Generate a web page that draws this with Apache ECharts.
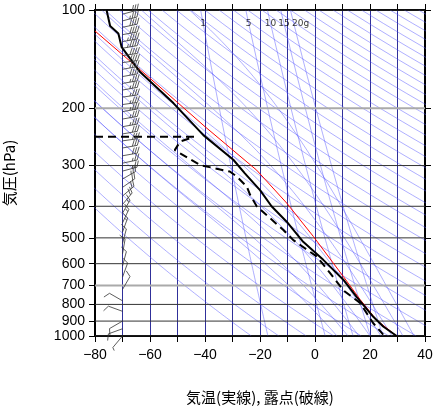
<!DOCTYPE html>
<html><head><meta charset="utf-8">
<script src="https://cdn.jsdelivr.net/npm/echarts@6/dist/echarts.min.js"></script>
<style>html,body{margin:0;padding:0;background:#fff}#c{width:436px;height:411px}</style>
</head><body><div id="c"></div>
<script>
var chart = echarts.init(document.getElementById('c'));

// 気温 (実線)
var tempP = [100, 112, 118, 130, 155, 193, 242, 288, 317, 357, 400, 446, 514, 584, 672, 758, 873, 935, 1000];
var tempT = [-75.8, -74.5, -71.5, -70.3, -63.6, -51.5, -40.6, -29.7, -25.5, -20, -15.8, -10.3, -4.3, 3.0, 10.3, 15.1, 21.2, 24.8, 29.7];
// 露点 (破線)
var dewP = [245, 245, 253, 269, 299, 313, 324, 348, 369, 400, 473, 508, 570, 641, 724, 792, 914, 990];
var dewT = [-80, -44, -49, -51, -41.8, -31, -28.5, -24.8, -23.6, -21.2, -11.5, -7.9, 0.6, 5.5, 10.3, 16.4, 21.2, 24.8];
// 赤線 (持ち上げ曲線)
var redP = [116, 162, 228, 310, 391, 495, 657, 773, 894, 1000];
var redT = [-80, -60, -40, -21.2, -10.3, -0.6, 10.3, 16.4, 22.4, 29.7];
// 風 (気圧, 向き[画面上の角度], 風速kt)
var windP = [103, 108, 113, 119, 125, 131, 138, 145, 152, 160, 168, 176, 185, 195, 205, 216, 228, 240, 252, 265, 280, 295, 312, 330, 350, 372, 395, 420, 450, 480, 520, 560, 610, 660, 720, 780, 840, 900, 950, 1000];
var windD = [75, 75, 78, 80, 80, 80, 82, 82, 80, 80, 80, 80, 82, 82, 80, 80, 80, 80, 82, 80, 80, 78, 75, 60, 55, 50, 40, 30, 25, 20, 15, 10, 15, 20, 30, 300, 290, 240, 250, 220];
var windS = [30, 35, 40, 40, 45, 45, 40, 40, 40, 40, 35, 35, 35, 35, 35, 35, 35, 30, 30, 30, 30, 25, 25, 25, 20, 20, 20, 15, 15, 15, 10, 10, 10, 10, 10, 10, 10, 10, 10, 5];
// 背景線
var thetas = []; for (var th = 250; th <= 600; th += 10) thetas.push(th);
var moistStart = [8, 12, 16, 20, 24, 28, 32, 36];
var mixRatios = [1, 5, 10, 15, 20];
var isobars = [100, 200, 300, 400, 500, 600, 700, 800, 900, 1000];
var yTicks = [100, 200, 300, 400, 500, 600, 700, 800, 900, 1000];

function L(p) { return Math.log10(p); }
var levels = []; for (var lp = 100; lp <= 1000; lp += 10) levels.push(lp);
var thin = { color: 'rgba(80,80,255,0.65)', width: 0.7 };
var series = [];

thetas.forEach(function (th) {
  series.push({ type: 'line', silent: true, symbol: 'none', lineStyle: thin, z: 1,
    data: levels.map(function (p) { return [th * Math.pow(p / 1000, 0.2857) - 273.15, L(p)]; }) });
});
function es(t) { return 6.112 * Math.exp(17.67 * t / (t + 243.5)); }
moistStart.forEach(function (t0) {
  var pts = [], T = t0 + 273.15;
  for (var p = 1000; p >= 100; p -= 5) {
    pts.push([T - 273.15, L(p)]);
    var rs = 0.622 * es(T - 273.15) / (p - es(T - 273.15));
    var dTdp = (287 * T + 2.5e6 * rs) / (p * (1004 + 2.5e6 * 2.5e6 * rs * 0.622 / (287 * T * T)));
    T -= dTdp * 5;
  }
  series.push({ type: 'line', silent: true, symbol: 'none', lineStyle: thin, z: 1, data: pts });
});
function tdw(w, p) { var e = w * p / (622 + w), a = Math.log(e / 6.112); return 243.5 * a / (17.67 - a); }
mixRatios.forEach(function (w) {
  series.push({ type: 'line', silent: true, symbol: 'none', lineStyle: thin, z: 1,
    data: levels.map(function (p) { return [tdw(w, p), L(p)]; }) });
});
series.push({ type: 'scatter', silent: true, symbolSize: 0, z: 5,
  label: { show: true, position: 'inside', color: '#000', fontSize: 9, fontFamily: 'DejaVu Sans',
    formatter: function (d) { return d.value[2]; } },
  data: mixRatios.map(function (w, i) { return [tdw(w, 110) + (i === 4 ? 2.5 : 0), L(110), w + (i === 4 ? 'g' : '')]; }) });
isobars.forEach(function (p) {
  var gray = (p === 200 || p === 700);
  series.push({ type: 'line', silent: true, symbol: 'none', z: 2,
    lineStyle: { color: gray ? '#aaaaaa' : '#333333', width: gray ? 2 : 1 },
    data: [[-80, L(p)], [40, L(p)]] });
});
series.push({ type: 'line', symbol: 'none', z: 6, lineStyle: { color: '#ff0000', width: 1 },
  data: redP.map(function (p, i) { return [redT[i], L(p)]; }) });
series.push({ type: 'line', symbol: 'none', z: 7, lineStyle: { color: '#000', width: 2 },
  data: tempP.map(function (p, i) { return [tempT[i], L(p)]; }) });
series.push({ type: 'line', symbol: 'none', z: 7, lineStyle: { color: '#000', width: 2, type: [8, 5] },
  data: dewP.map(function (p, i) { return [dewT[i], L(p)]; }) });
series.push({ type: 'custom', z: 8, silent: true,
  data: windP.map(function (p, i) { return [-70, L(p), windD[i], windS[i]]; }),
  renderItem: function (params, api) {
    var o = api.coord([api.value(0), api.value(1)]);
    var a = api.value(2) * Math.PI / 180, s = api.value(3);
    var dx = Math.sin(a), dy = -Math.cos(a), len = 15;
    var ch = [{ type: 'line', shape: { x1: o[0], y1: o[1], x2: o[0] + dx * len, y2: o[1] + dy * len } }];
    var nx = -dy, ny = dx;
    var k = 0;
    while (s >= 5) {
      var f = s >= 10 ? 6 : 3;
      var bx = o[0] + dx * (len - k * 2.5), by = o[1] + dy * (len - k * 2.5);
      ch.push({ type: 'line', shape: { x1: bx, y1: by, x2: bx - nx * f + dx * f * 0.5, y2: by - ny * f + dy * f * 0.5 } });
      s -= s >= 10 ? 10 : 5; k++;
    }
    return { type: 'group', children: ch.map(function (c) { c.style = { stroke: '#333', lineWidth: 0.8 }; return c; }) };
  } });

var font = 'Liberation Sans';
chart.setOption({
  animation: false,
  grid: { left: 95, right: 11, top: 10, bottom: 75, outerBoundsMode: 'none' },
  xAxis: [{
    type: 'value', min: -80, max: 40, interval: 10,
    name: '気温(実線), 露点(破線)', nameLocation: 'middle', nameGap: 54,
    nameTextStyle: { fontSize: 15, color: '#000', fontFamily: 'Noto Sans CJK JP' },
    axisLine: { onZero: false, lineStyle: { color: '#000', width: 2 } },
    axisTick: { length: 6, lineStyle: { color: '#000' } },
    axisLabel: { fontSize: 14, color: '#000', fontFamily: font, margin: 12,
      formatter: function (v) { return v % 20 === 0 ? String(v).replace('-', '−') : ''; } },
    splitLine: { show: true, lineStyle: { color: '#30309a', width: 1 } }
  }, {
    type: 'value', position: 'top', min: -80, max: 40, interval: 10,
    axisLine: { onZero: false, lineStyle: { color: '#000', width: 2 } },
    axisTick: { length: 6, lineStyle: { color: '#000' } }, axisLabel: { show: false }, splitLine: { show: false }
  }],
  yAxis: [{
    type: 'value', min: 2, max: 3, inverse: true,
    name: '気圧(hPa)', nameLocation: 'middle', nameGap: 78, nameRotate: 90,
    nameTextStyle: { fontSize: 15, color: '#000', fontFamily: 'Noto Sans CJK JP' },
    axisLine: { onZero: false, lineStyle: { color: '#000', width: 2 } },
    axisTick: { length: 6, lineStyle: { color: '#000' }, customValues: yTicks.map(L) },
    axisLabel: { fontSize: 14, color: '#000', fontFamily: font, margin: 10, customValues: yTicks.map(L),
      formatter: function (v) { return String(Math.round(Math.pow(10, v))); } },
    splitLine: { show: false }
  }, {
    type: 'value', min: 2, max: 3, inverse: true, position: 'right',
    axisLine: { onZero: false, lineStyle: { color: '#000', width: 2 } },
    axisTick: { length: 6, lineStyle: { color: '#000' }, customValues: yTicks.map(L) },
    axisLabel: { show: false }, splitLine: { show: false }
  }],
  series: series
});
</script></body></html>
